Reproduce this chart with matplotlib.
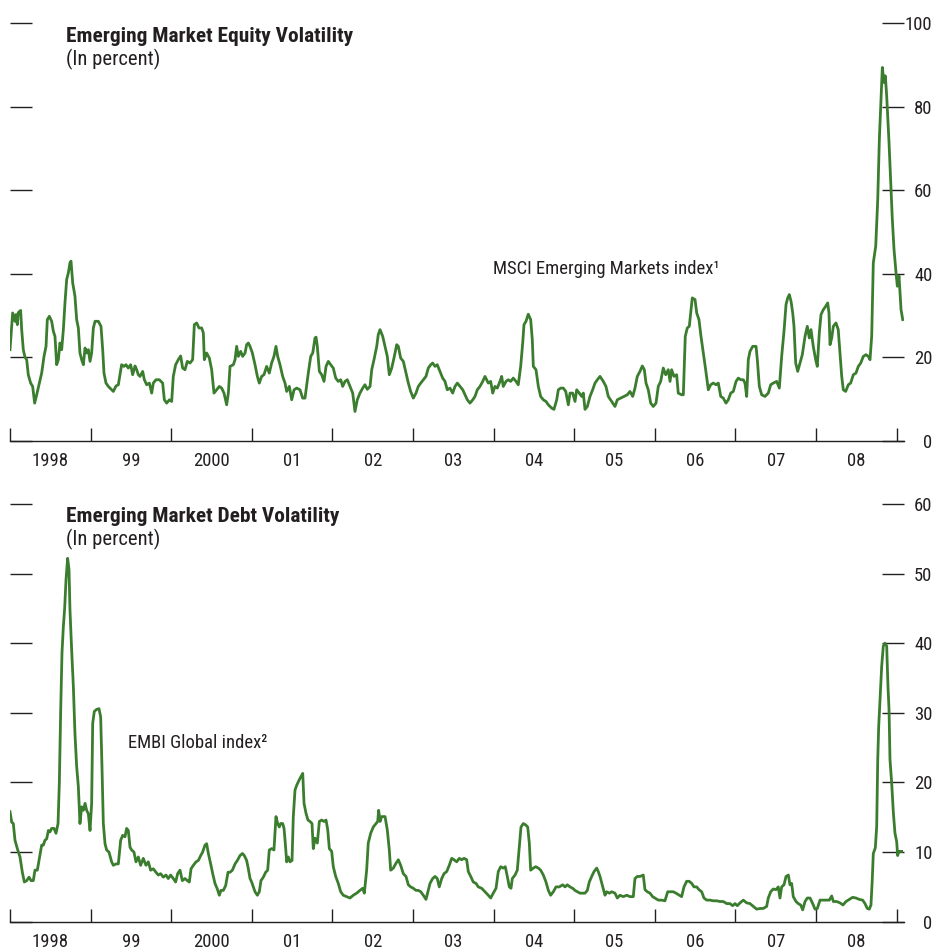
import numpy as np
import matplotlib
matplotlib.use("Agg")
import matplotlib.pyplot as plt
from matplotlib import font_manager

# ---------------- data ----------------
eq_dates = [
 1998.000,1998.033,1998.062,1998.074,1998.091,1998.103,1998.132,1998.145,1998.165,1998.186,
 1998.207,1998.227,1998.256,1998.281,1998.306,1998.331,1998.364,1998.393,1998.422,1998.447,
 1998.463,1998.488,1998.517,1998.538,1998.558,1998.579,1998.600,1998.620,1998.641,1998.662,
 1998.682,1998.703,1998.724,1998.744,1998.757,1998.778,1998.806,1998.827,1998.848,1998.868,
 1998.889,1998.910,1998.931,1998.951,1998.972,1998.993,1999.013,1999.034,1999.055,1999.096,
 1999.129,1999.150,1999.166,1999.191,1999.220,1999.261,1999.282,1999.315,1999.344,1999.365,
 1999.385,1999.414,1999.439,1999.468,1999.497,1999.522,1999.551,1999.572,1999.592,1999.613,
 1999.646,1999.667,1999.696,1999.729,1999.758,1999.778,1999.811,1999.853,1999.894,1999.915,
 1999.944,1999.977,2000.006,2000.026,2000.055,2000.088,2000.117,2000.142,2000.171,2000.200,
 2000.233,2000.266,2000.287,2000.316,2000.345,2000.378,2000.399,2000.411,2000.440,2000.473,
 2000.502,2000.531,2000.564,2000.597,2000.626,2000.655,2000.688,2000.709,2000.730,2000.771,
 2000.792,2000.812,2000.833,2000.862,2000.887,2000.916,2000.936,2000.957,2000.978,2001.007,
 2001.040,2001.069,2001.093,2001.122,2001.151,2001.184,2001.217,2001.246,2001.275,2001.300,
 2001.321,2001.350,2001.383,2001.412,2001.433,2001.466,2001.495,2001.524,2001.557,2001.598,
 2001.631,2001.660,2001.701,2001.731,2001.756,2001.784,2001.797,2001.813,2001.838,2001.867,
 2001.896,2001.921,2001.949,2001.979,2002.011,2002.041,2002.073,2002.103,2002.128,2002.156,
 2002.185,2002.218,2002.252,2002.280,2002.309,2002.342,2002.376,2002.404,2002.433,2002.467,
 2002.488,2002.516,2002.550,2002.569,2002.591,2002.624,2002.653,2002.681,2002.706,2002.736,
 2002.764,2002.798,2002.818,2002.847,2002.880,2002.913,2002.942,2002.971,2003.004,2003.037,
 2003.066,2003.096,2003.128,2003.161,2003.190,2003.220,2003.244,2003.273,2003.301,2003.335,
 2003.368,2003.397,2003.425,2003.459,2003.492,2003.521,2003.550,2003.583,2003.617,2003.645,
 2003.674,2003.707,2003.741,2003.769,2003.798,2003.831,2003.865,2003.893,2003.914,2003.934,
 2003.964,2003.989,2004.017,2004.046,2004.079,2004.100,2004.120,2004.154,2004.182,2004.212,
 2004.244,2004.278,2004.306,2004.336,2004.361,2004.377,2004.402,2004.430,2004.460,2004.480,
 2004.493,2004.526,2004.555,2004.584,2004.617,2004.650,2004.679,2004.721,2004.749,2004.783,
 2004.803,2004.833,2004.865,2004.895,2004.927,2004.948,2004.981,2005.010,2005.031,2005.063,
 2005.093,2005.113,2005.134,2005.163,2005.196,2005.229,2005.258,2005.287,2005.320,2005.361,
 2005.394,2005.423,2005.465,2005.506,2005.535,2005.577,2005.618,2005.659,2005.692,2005.726,
 2005.754,2005.783,2005.816,2005.845,2005.870,2005.891,2005.919,2005.949,2005.981,2006.015,
 2006.043,2006.073,2006.105,2006.135,2006.167,2006.189,2006.209,2006.238,2006.271,2006.291,
 2006.333,2006.354,2006.378,2006.403,2006.428,2006.449,2006.465,2006.499,2006.520,2006.548,
 2006.573,2006.602,2006.631,2006.664,2006.693,2006.726,2006.759,2006.788,2006.818,2006.850,
 2006.883,2006.912,2006.942,2006.974,2007.008,2007.036,2007.066,2007.098,2007.119,2007.140,
 2007.160,2007.181,2007.215,2007.256,2007.272,2007.297,2007.326,2007.367,2007.408,2007.438,
 2007.470,2007.512,2007.545,2007.574,2007.603,2007.628,2007.649,2007.669,2007.690,2007.711,
 2007.727,2007.748,2007.773,2007.801,2007.830,2007.864,2007.892,2007.917,2007.938,2007.966,
 2007.996,2008.016,2008.041,2008.062,2008.091,2008.121,2008.145,2008.161,2008.174,2008.195,
 2008.215,2008.248,2008.276,2008.298,2008.319,2008.339,2008.368,2008.401,2008.430,2008.463,
 2008.496,2008.525,2008.555,2008.587,2008.620,2008.649,2008.670,2008.691,2008.711,2008.741,
 2008.766,2008.786,2008.807,2008.823,2008.844,2008.860,2008.877,2008.906,2008.931,2008.947,
 2008.968,2008.993,2009.009,2009.030,2009.042,2009.055,2009.076]
eq_values = [
 21.8,30.6,28.6,30.2,27.8,30.7,31.2,26.6,21.8,20.0,
 19.4,15.8,13.8,13.0,9.0,11.0,13.8,16.2,20.2,22.6,
 29.0,29.8,28.6,26.2,25.0,18.2,19.4,23.4,21.8,26.6,
 33.0,38.6,40.2,42.6,43.0,37.8,34.6,29.0,27.0,21.0,
 19.4,18.2,22.2,21.0,21.8,19.0,21.0,27.0,28.6,28.6,
 27.4,21.8,16.2,13.8,13.0,12.2,11.8,13.1,13.4,15.8,
 18.2,17.8,18.2,17.4,18.2,15.8,17.9,17.0,15.8,15.4,
 16.6,14.6,13.4,13.8,11.4,13.8,14.6,14.6,13.8,9.8,
 9.0,9.8,9.4,15.4,18.2,19.4,20.3,17.4,17.0,19.0,
 18.6,19.4,27.8,28.2,27.0,27.0,25.8,19.4,21.0,19.8,
 17.0,11.4,12.2,13.0,12.6,11.4,8.6,11.4,17.8,18.2,
 19.4,22.6,20.2,21.4,20.2,21.0,23.0,23.4,22.6,21.0,
 18.2,15.4,13.8,15.4,15.8,17.8,16.2,18.6,20.2,22.6,
 20.2,18.2,15.4,13.8,11.8,13.0,9.8,12.2,12.6,12.2,
 10.2,10.2,16.2,20.2,21.0,24.6,24.8,22.6,16.6,15.8,
 14.2,17.8,19.0,18.2,17.4,15.0,14.2,14.6,13.0,14.2,
 14.6,13.0,11.4,7.0,9.8,11.4,12.6,13.4,12.3,13.0,
 17.0,19.4,22.6,25.4,26.6,25.0,22.6,20.2,15.8,17.4,
 19.8,23.0,22.6,19.8,19.0,16.2,13.8,11.8,10.2,11.4,
 13.0,13.8,14.6,15.4,17.4,18.2,18.6,17.8,18.2,16.6,
 15.0,14.2,12.2,12.6,11.4,13.0,13.8,13.0,12.2,11.0,
 9.8,9.0,9.8,10.6,12.2,13.0,14.2,15.4,14.6,13.8,
 14.2,11.4,13.0,12.6,14.2,15.4,13.0,14.2,14.6,14.2,
 15.0,14.2,13.4,17.8,23.4,27.8,28.6,30.3,29.0,24.2,
 17.8,17.0,13.0,10.6,9.8,9.4,8.6,7.8,7.5,9.8,
 12.2,12.6,12.6,11.8,8.6,11.4,11.4,9.4,12.2,11.4,
 10.6,11.4,7.5,8.2,10.6,12.2,13.8,14.6,15.4,14.2,
 13.0,10.6,9.4,8.2,9.8,10.2,10.6,11.0,11.8,10.6,
 12.6,15.4,16.6,17.9,17.0,13.8,12.2,9.0,8.2,9.0,
 13.0,14.2,17.4,15.8,17.0,14.2,17.0,15.4,15.8,11.4,
 11.0,11.0,25.0,27.0,27.4,31.4,34.2,33.8,30.6,29.0,
 25.0,21.0,17.0,12.2,13.4,13.8,13.4,13.8,10.6,10.2,
 9.0,9.8,11.4,11.8,14.2,15.0,14.6,14.6,13.8,10.6,
 19.4,21.4,22.6,22.6,19.4,13.0,11.0,10.6,11.4,13.4,
 13.8,14.2,12.6,20.2,26.2,32.6,34.2,35.0,33.4,30.6,
 27.4,18.6,16.6,18.6,20.6,25.0,27.4,24.6,26.6,22.6,
 19.4,17.8,25.8,30.2,31.4,32.2,33.0,30.6,23.0,24.6,
 27.4,28.2,26.6,21.0,15.4,12.2,11.8,13.4,13.8,15.8,
 16.2,17.8,18.6,20.2,20.6,20.2,19.4,25.0,42.6,46.6,
 57.8,72.2,81.8,89.4,85.8,87.4,82.6,71.4,60.2,53.0,
 45.8,40.2,37.0,39.4,35.4,31.4,29.0]

debt_dates = [
 1998.000,1998.021,1998.041,1998.062,1998.091,1998.124,1998.153,1998.178,1998.207,1998.236,
 1998.261,1998.289,1998.310,1998.339,1998.364,1998.393,1998.414,1998.434,1998.455,1998.476,
 1998.496,1998.517,1998.546,1998.571,1998.596,1998.612,1998.629,1998.645,1998.662,1998.678,
 1998.695,1998.715,1998.732,1998.744,1998.765,1998.786,1998.806,1998.827,1998.848,1998.868,
 1998.889,1998.910,1998.931,1998.951,1998.972,1998.993,1999.013,1999.026,1999.046,1999.075,
 1999.104,1999.125,1999.141,1999.158,1999.179,1999.199,1999.228,1999.261,1999.282,1999.315,
 1999.344,1999.373,1999.398,1999.427,1999.447,1999.468,1999.489,1999.509,1999.538,1999.563,
 1999.592,1999.621,1999.654,1999.687,1999.716,1999.745,1999.778,1999.811,1999.840,1999.869,
 1999.902,1999.935,1999.964,1999.993,2000.026,2000.055,2000.080,2000.109,2000.138,2000.171,
 2000.200,2000.225,2000.246,2000.275,2000.308,2000.337,2000.366,2000.390,2000.419,2000.440,
 2000.461,2000.490,2000.515,2000.543,2000.572,2000.597,2000.618,2000.647,2000.676,2000.705,
 2000.730,2000.759,2000.792,2000.821,2000.854,2000.883,2000.907,2000.936,2000.957,2000.978,
 2000.998,2001.019,2001.040,2001.069,2001.093,2001.114,2001.143,2001.172,2001.197,2001.217,
 2001.246,2001.275,2001.300,2001.321,2001.341,2001.358,2001.383,2001.400,2001.416,2001.433,
 2001.453,2001.474,2001.499,2001.515,2001.536,2001.557,2001.577,2001.598,2001.632,2001.648,
 2001.672,2001.697,2001.722,2001.747,2001.763,2001.784,2001.813,2001.838,2001.867,2001.896,
 2001.921,2001.942,2001.962,2001.991,2002.011,2002.041,2002.073,2002.103,2002.135,2002.178,
 2002.218,2002.259,2002.301,2002.342,2002.376,2002.396,2002.425,2002.445,2002.475,2002.507,
 2002.541,2002.562,2002.574,2002.591,2002.612,2002.653,2002.681,2002.706,2002.723,2002.756,
 2002.789,2002.818,2002.847,2002.880,2002.913,2002.942,2002.971,2003.004,2003.037,2003.066,
 2003.096,2003.128,2003.161,2003.190,2003.211,2003.244,2003.273,2003.301,2003.326,2003.356,
 2003.385,2003.418,2003.450,2003.480,2003.509,2003.542,2003.575,2003.604,2003.633,2003.666,
 2003.686,2003.716,2003.748,2003.782,2003.810,2003.852,2003.893,2003.934,2003.964,2003.996,
 2004.030,2004.058,2004.088,2004.120,2004.145,2004.170,2004.195,2004.216,2004.232,2004.266,
 2004.294,2004.319,2004.340,2004.369,2004.398,2004.423,2004.443,2004.460,2004.493,2004.522,
 2004.555,2004.584,2004.617,2004.650,2004.679,2004.708,2004.741,2004.774,2004.815,2004.857,
 2004.886,2004.914,2004.948,2004.981,2005.010,2005.039,2005.072,2005.105,2005.134,2005.163,
 2005.187,2005.217,2005.246,2005.279,2005.299,2005.320,2005.354,2005.382,2005.403,2005.436,
 2005.465,2005.506,2005.535,2005.568,2005.609,2005.651,2005.692,2005.733,2005.754,2005.783,
 2005.816,2005.857,2005.878,2005.907,2005.940,2005.973,2006.002,2006.043,2006.085,2006.126,
 2006.160,2006.197,2006.230,2006.263,2006.304,2006.333,2006.362,2006.395,2006.428,2006.458,
 2006.486,2006.520,2006.548,2006.582,2006.610,2006.644,2006.685,2006.726,2006.768,2006.809,
 2006.850,2006.892,2006.933,2006.966,2006.995,2007.024,2007.057,2007.098,2007.140,2007.181,
 2007.222,2007.264,2007.305,2007.346,2007.388,2007.408,2007.438,2007.470,2007.504,2007.532,
 2007.553,2007.574,2007.603,2007.628,2007.657,2007.677,2007.698,2007.718,2007.752,2007.780,
 2007.810,2007.835,2007.864,2007.892,2007.926,2007.959,2007.988,2008.016,2008.050,2008.083,
 2008.124,2008.165,2008.195,2008.215,2008.257,2008.298,2008.335,2008.372,2008.413,2008.455,
 2008.496,2008.538,2008.579,2008.608,2008.636,2008.661,2008.682,2008.698,2008.711,2008.736,
 2008.753,2008.766,2008.778,2008.794,2008.815,2008.835,2008.856,2008.877,2008.893,2008.906,
 2008.918,2008.939,2008.960,2008.980,2009.001,2009.013,2009.030,2009.063]
debt_values = [
 15.8,14.3,14.1,11.7,10.5,9.3,7.1,5.7,5.9,6.4,
 5.9,5.9,7.4,7.4,9.1,11.0,11.0,11.7,11.9,13.1,
 12.9,13.4,13.4,12.7,14.1,19.9,30.4,38.6,42.4,45.0,
 49.1,52.2,50.6,44.8,39.0,33.8,27.0,22.3,19.4,14.1,
 16.5,16.0,17.0,16.0,15.5,13.1,17.0,28.5,30.2,30.5,
 30.6,29.4,22.3,14.1,11.2,10.3,10.0,8.6,8.1,8.3,
 8.3,11.7,12.4,12.2,13.4,13.1,10.7,10.3,10.0,8.6,
 9.3,8.1,9.1,8.1,8.6,7.4,7.6,7.1,6.7,6.9,
 6.4,6.7,6.2,6.7,6.2,5.7,6.9,7.4,5.9,6.2,
 5.9,5.7,7.6,8.1,8.6,8.8,9.5,10.0,11.0,11.2,
 9.8,8.3,6.9,5.5,4.7,3.8,4.5,4.5,5.2,7.1,
 7.1,7.4,8.3,8.8,9.5,9.8,9.5,8.8,7.6,6.2,
 5.7,5.0,4.3,3.8,4.3,5.9,6.4,7.1,7.4,10.3,
 10.5,10.3,15.1,14.1,13.6,14.1,14.1,13.4,11.2,8.6,
 9.3,8.6,8.8,15.1,18.9,19.6,20.1,20.6,21.3,17.0,
 15.6,14.6,14.4,14.1,10.5,12.0,11.3,14.4,14.6,14.4,
 14.6,13.2,10.5,10.1,7.9,6.5,5.5,4.3,3.8,3.6,
 3.4,3.8,4.1,4.5,4.8,4.1,7.4,11.3,12.7,13.6,
 14.1,14.4,16.0,14.4,15.1,15.1,13.2,10.3,7.4,7.7,
 8.4,8.9,8.1,6.9,6.5,5.3,5.0,4.8,4.5,4.5,
 4.3,3.8,3.2,4.5,5.5,6.2,6.5,6.2,5.0,6.2,
 6.9,7.2,8.1,9.1,8.9,8.6,9.1,8.9,9.1,8.9,
 7.2,6.5,5.7,5.5,5.0,4.8,4.3,3.8,3.4,4.1,
 4.8,7.2,7.9,7.7,7.9,6.5,5.0,4.8,6.2,6.7,
 7.4,10.8,13.6,14.1,13.9,13.6,11.3,7.4,7.7,7.9,
 7.7,7.4,6.7,5.7,4.5,3.8,4.3,5.0,5.0,5.3,
 5.0,5.3,5.0,4.8,4.5,4.3,4.1,4.1,4.1,4.5,
 5.7,6.5,7.2,7.7,7.2,6.5,5.0,3.8,4.3,4.1,
 4.3,4.1,3.4,3.8,3.6,3.8,3.6,3.6,6.2,6.5,
 6.5,6.7,4.6,4.3,4.1,3.6,3.4,3.1,3.1,3.0,
 4.3,4.3,4.3,4.1,3.8,3.6,5.0,5.8,5.8,5.5,
 5.0,5.0,4.6,4.3,3.4,3.1,3.1,3.0,3.0,2.9,
 2.9,2.6,2.6,2.3,2.6,2.3,2.7,3.1,2.7,2.6,
 2.2,1.8,1.9,1.9,2.2,3.4,4.3,4.7,4.6,5.0,
 3.4,5.0,5.3,6.5,6.7,5.3,5.5,3.6,2.9,2.6,
 2.4,1.7,2.9,3.4,3.4,2.6,1.8,1.9,3.1,3.1,
 3.1,3.1,3.7,2.9,2.9,2.7,2.4,2.9,3.2,3.5,
 3.4,3.2,3.1,2.6,1.9,1.8,2.4,6.0,9.8,10.6,
 13.7,23.3,28.1,31.9,36.7,39.6,40.0,39.6,33.8,30.5,
 23.3,19.9,15.6,12.7,11.5,9.5,10.1,10.1]

year_starts = list(range(1998, 2010))
year_labels = ["1998", "99", "2000", "01", "02", "03", "04", "05", "06", "07", "08"]

eq_title = "Emerging Market Equity Volatility"
debt_title = "Emerging Market Debt Volatility"
unit_label = "(In percent)"
eq_series_label = "MSCI Emerging Markets index\u00b9"
debt_series_label = "EMBI Global index\u00b2"

eq_yticks = [0, 20, 40, 60, 80, 100]
debt_yticks = [0, 10, 20, 30, 40, 50, 60]

# ---------------- fonts ----------------
_fl = font_manager.fontManager.ttflist


def _w(v):
    if isinstance(v, str):
        return font_manager.weight_dict.get(v, 400)
    return int(v)


def _has_static(name, bold):
    for f in _fl:
        if f.name != name or "[" in f.fname or "Italic" in f.fname:
            continue
        w = _w(f.weight)
        if bold and w >= 600:
            return True
        if not bold and 350 <= w <= 450:
            return True
    return False


FONT = "DejaVu Sans"
for cand in ["Roboto Condensed", "PT Sans Narrow", "Liberation Sans Narrow",
             "Archivo Narrow", "Barlow Semi Condensed", "Asap Condensed"]:
    if _has_static(cand, True) and (_has_static(cand, False) or cand == "Archivo Narrow"):
        FONT = cand
        break
plt.rcParams["font.family"] = [FONT, "DejaVu Sans"]

# ---------------- style ----------------
W, H = 936, 952
DPI = 100
TEXT = "#231f20"
AXC = "#231f20"
GREEN = "#3b7d2e"
FS = 13.4
FS_TITLE = 15.4
FS_UNIT = 14.9

fig = plt.figure(figsize=(W / DPI, H / DPI), dpi=DPI)

PX_PER_YEAR = 80.6
X_LEFT_PX, X_RIGHT_PX = 9.5, 904.0
XMIN = 1998 - (10 - X_LEFT_PX) / PX_PER_YEAR
XMAX = 1998 + (X_RIGHT_PX - 10) / PX_PER_YEAR


def fx(px):
    return px / W


def fy(py):
    return 1 - py / H


def make_axes(top_px, bottom_px):
    return fig.add_axes([fx(X_LEFT_PX), fy(bottom_px),
                         (X_RIGHT_PX - X_LEFT_PX) / W, (bottom_px - top_px) / H])


def style(ax, yticks):
    ax.set_xlim(XMIN, XMAX)
    ax.set_ylim(yticks[0], yticks[-1])
    for s in ("top", "left", "right"):
        ax.spines[s].set_visible(False)
    ax.spines["bottom"].set_color(AXC)
    ax.spines["bottom"].set_linewidth(1.0)
    ax.set_xticks(year_starts)
    ax.set_xticklabels([])
    ax.set_xticks([y + 0.5 for y in year_starts[:-1]], minor=True)
    ax.set_xticklabels(year_labels, minor=True)
    ax.tick_params(axis="x", which="major", direction="in", length=9.5,
                   width=1.0, color=AXC)
    ax.tick_params(axis="x", which="minor", length=0, pad=8.0,
                   labelsize=FS, labelcolor=TEXT)
    ax.set_yticks(yticks)
    ax.set_yticklabels([str(v) for v in yticks])
    ax.tick_params(axis="y", which="major", direction="in", length=15.8,
                   width=1.0, color=AXC, left=True, right=True,
                   labelleft=False, labelright=True, pad=20.5,
                   labelsize=FS, labelcolor=TEXT)
    for lbl in ax.get_yticklabels():
        lbl.set_horizontalalignment("right")
    ax.patch.set_alpha(0)


ax1 = make_axes(23.2, 440.7)
ax1.plot(eq_dates, eq_values, color=GREEN, lw=2.0, solid_joinstyle="round")
style(ax1, eq_yticks)

ax2 = make_axes(504.0, 921.7)
ax2.plot(debt_dates, debt_values, color=GREEN, lw=2.0, solid_joinstyle="round")
style(ax2, debt_yticks)

# titles and labels
fig.text(fx(66), fy(42), eq_title, fontsize=FS_TITLE, fontweight="bold",
         color=TEXT, va="baseline", ha="left")
fig.text(fx(66), fy(65.5), unit_label, fontsize=FS_UNIT, color=TEXT,
         va="baseline", ha="left")
fig.text(fx(66), fy(522), debt_title, fontsize=FS_TITLE, fontweight="bold",
         color=TEXT, va="baseline", ha="left")
fig.text(fx(66), fy(545.5), unit_label, fontsize=FS_UNIT, color=TEXT,
         va="baseline", ha="left")
fig.text(fx(493), fy(274), eq_series_label, fontsize=FS, color=TEXT,
         va="baseline", ha="left")
fig.text(fx(128), fy(748), debt_series_label, fontsize=FS, color=TEXT,
         va="baseline", ha="left")

fig.savefig("out.png", dpi=DPI)
